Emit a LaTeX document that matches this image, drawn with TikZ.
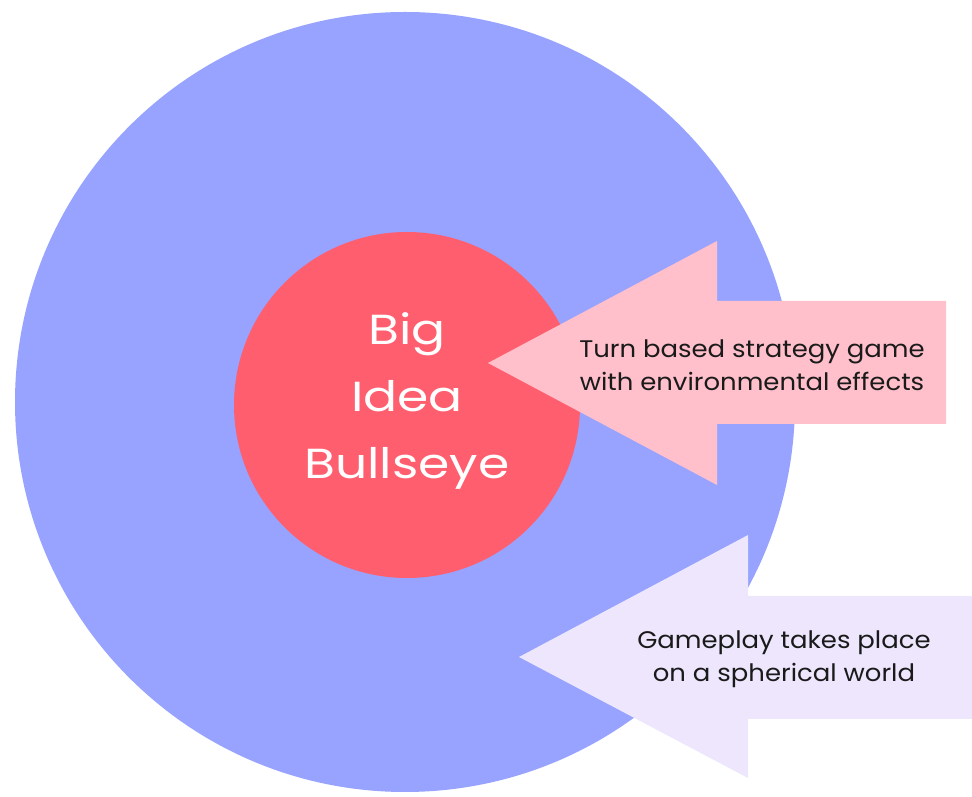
\documentclass[tikz,border=0pt]{standalone}
\usepackage{fontspec}
\setmainfont{Poppins}
\newfontfamily\bigfont[FakeStretch=1.2]{Poppins}
\newfontfamily\smallfont[FakeStretch=1.08]{Poppins}
\definecolor{outerblue}{RGB}{151,163,255}
\definecolor{innerred}{RGB}{255,94,110}
\definecolor{pinkarrow}{RGB}{255,192,203}
\definecolor{lavarrow}{RGB}{237,230,253}
\definecolor{labeltext}{RGB}{26,26,26}
\begin{document}
\begin{tikzpicture}[x=1pt,y=1pt,
  ring/.style={circle,inner sep=0pt,outer sep=0pt},
  arrowlabel/.style={align=center,text=labeltext,font=\smallfont\fontsize{24}{33}\selectfont}]
\useasboundingbox (0,0) rectangle (972,797);
\begin{scope}
\clip (0,0) rectangle (972,797);
\node[ring,fill=outerblue,minimum size=780pt] (outer) at (405,395) {};
\node[ring,fill=innerred,minimum size=346pt] (inner) at (407,392) {};
\node[align=center,text=white,font=\bigfont\fontsize{42}{67}\selectfont] (big) at (407,396) {Big\\Idea\\Bullseye};
% pink arrow
\coordinate (p1) at (488,434);
\fill[pinkarrow] (p1) -- (717,556) -- (717,496) -- (946,496) -- (946,373) -- (717,373) -- (717,312) -- cycle;
\node[arrowlabel] (turn) at (752,432) {Turn based strategy game\\with environmental effects};
% lavender arrow
\coordinate (l1) at (519,140);
\fill[lavarrow] (l1) -- (748,262) -- (748,201) -- (972,201) -- (972,78) -- (748,78) -- (748,19) -- cycle;
\node[arrowlabel] (game) at (784,138) {Gameplay takes place\\on a spherical world};
\end{scope}
\end{tikzpicture}
\end{document}
